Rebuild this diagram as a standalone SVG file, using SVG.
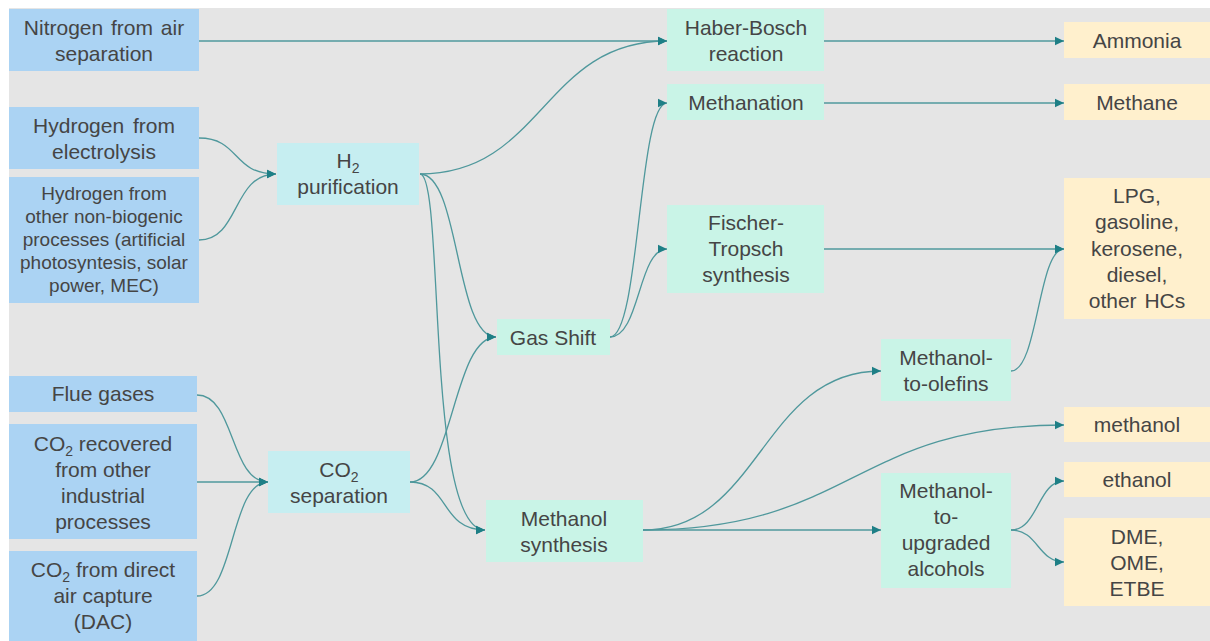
<svg xmlns="http://www.w3.org/2000/svg" width="1210" height="641" viewBox="0 0 1210 641">
<defs>
<style>
.t{font-family:"Liberation Sans",Arial,sans-serif;font-size:21px;fill:#454545;text-anchor:middle}
.s{font-size:19px}
.sub{font-size:14px}
.src{fill:#abd3f3}
.sep{fill:#c6eef1}
.proc{fill:#c9f4e7}
.prod{fill:#fff0cd}
.c{fill:none;stroke:#4f989c;stroke-width:1.3;marker-end:url(#ah)}
</style>
<marker id="ah" markerUnits="userSpaceOnUse" markerWidth="10" markerHeight="10" refX="9" refY="5" orient="auto">
<path d="M0,0.8 L9,5 L0,9.2 Z" fill="#1e7f86"/>
</marker>
</defs>
<rect x="0" y="0" width="1210" height="641" fill="#ffffff"/>
<rect x="9" y="8" width="1201" height="633" fill="#e5e5e5"/>
<g id="connectors">
<path class="c" d="M199,41 L667,41"/>
<path class="c" d="M199,138 C240,138 232,174 276,174"/>
<path class="c" d="M199,240 C240,240 232,174 276,174"/>
<path class="c" d="M420,174 C543,174 543,41 667,41"/>
<path class="c" d="M420,174 C460,174 455,337 496,337"/>
<path class="c" d="M420,174 C445,174 425,530 485,530"/>
<path class="c" d="M410,482 C453,482 453,337 496,337"/>
<path class="c" d="M410,482 C450,482 440,530 485,530"/>
<path class="c" d="M197,395 C235,395 230,482 268,482"/>
<path class="c" d="M197,482 L268,482"/>
<path class="c" d="M197,596 C235,596 230,482 268,482"/>
<path class="c" d="M824,41 L1064,41"/>
<path class="c" d="M824,103 L1064,103"/>
<path class="c" d="M824,249 L1064,249"/>
<path class="c" d="M610,337 C640,337 638,103 667,103"/>
<path class="c" d="M610,337 C640,337 638,249 667,249"/>
<path class="c" d="M643,530 C761,530 761,371 881,371"/>
<path class="c" d="M643,530 C853,530 853,425 1064,425"/>
<path class="c" d="M643,530 L881,530"/>
<path class="c" d="M1011,371 C1038,371 1038,249 1064,249"/>
<path class="c" d="M1011,530 C1038,530 1038,481 1064,481"/>
<path class="c" d="M1011,530 C1038,530 1038,562 1064,562"/>
</g>
<g id="n-nitrogen"><rect class="src" x="9" y="9" width="190" height="62"/><text class="t" x="104" y="35" word-spacing="2">Nitrogen from air</text><text class="t" x="104" y="61">separation</text></g>
<g id="n-h2-electrolysis"><rect class="src" x="9" y="107" width="190" height="62"/><text class="t" x="104" y="133" word-spacing="3">Hydrogen from</text><text class="t" x="104" y="159">electrolysis</text></g>
<g id="n-h2-other"><rect class="src" x="9" y="177" width="190" height="126"/>
<text class="t s" x="104" y="200">Hydrogen from</text>
<text class="t s" x="104" y="223">other non-biogenic</text>
<text class="t s" x="104" y="246">processes (artificial</text>
<text class="t s" x="104" y="269">photosyntesis, solar</text>
<text class="t s" x="104" y="292">power, MEC)</text></g>
<g id="n-flue"><rect class="src" x="9" y="376" width="188" height="36"/><text class="t" x="103" y="401">Flue gases</text></g>
<g id="n-co2-recovered"><rect class="src" x="9" y="424" width="188" height="115"/>
<text class="t" x="103" y="451">CO<tspan class="sub" dy="5">2</tspan><tspan dy="-5"> recovered</tspan></text>
<text class="t" x="103" y="477">from other</text>
<text class="t" x="103" y="503">industrial</text>
<text class="t" x="103" y="529">processes</text></g>
<g id="n-dac"><rect class="src" x="9" y="551" width="188" height="90"/>
<text class="t" x="103" y="577">CO<tspan class="sub" dy="5">2</tspan><tspan dy="-5"> from direct</tspan></text>
<text class="t" x="103" y="603">air capture</text>
<text class="t" x="103" y="629">(DAC)</text></g>
<g id="n-h2-purification"><rect class="sep" x="277" y="143" width="142" height="62"/>
<text class="t" x="348" y="168">H<tspan class="sub" dy="5">2</tspan></text>
<text class="t" x="348" y="194">purification</text></g>
<g id="n-co2-separation"><rect class="sep" x="268" y="451" width="142" height="62"/>
<text class="t" x="339" y="477">CO<tspan class="sub" dy="5">2</tspan></text>
<text class="t" x="339" y="503">separation</text></g>
<g id="n-gas-shift"><rect class="proc" x="497" y="319" width="113" height="36"/><text class="t" x="553" y="345">Gas Shift</text></g>
<g id="n-methanol-synthesis"><rect class="proc" x="486" y="500" width="157" height="62"/><text class="t" x="564" y="526">Methanol</text><text class="t" x="564" y="552">synthesis</text></g>
<g id="n-haber"><rect class="proc" x="667" y="9" width="157" height="62"/><text class="t" x="746" y="35">Haber-Bosch</text><text class="t" x="746" y="61">reaction</text></g>
<g id="n-methanation"><rect class="proc" x="667" y="84" width="157" height="36"/><text class="t" x="746" y="110">Methanation</text></g>
<g id="n-fischer"><rect class="proc" x="667" y="205" width="157" height="88"/><text class="t" x="746" y="230">Fischer-</text><text class="t" x="746" y="256">Tropsch</text><text class="t" x="746" y="282">synthesis</text></g>
<g id="n-mto"><rect class="proc" x="881" y="339" width="130" height="62"/><text class="t" x="946" y="365">Methanol-</text><text class="t" x="946" y="391">to-olefins</text></g>
<g id="n-mtua"><rect class="proc" x="881" y="473" width="130" height="115"/><text class="t" x="946" y="498">Methanol-</text><text class="t" x="946" y="524">to-</text><text class="t" x="946" y="550">upgraded</text><text class="t" x="946" y="576">alcohols</text></g>
<g id="n-ammonia"><rect class="prod" x="1064" y="22" width="146" height="36"/><text class="t" x="1137" y="48">Ammonia</text></g>
<g id="n-methane"><rect class="prod" x="1064" y="84" width="146" height="36"/><text class="t" x="1137" y="110">Methane</text></g>
<g id="n-hcs"><rect class="prod" x="1064" y="178" width="146" height="141"/>
<text class="t" x="1137" y="203">LPG,</text><text class="t" x="1137" y="229">gasoline,</text><text class="t" x="1137" y="256">kerosene,</text><text class="t" x="1137" y="282">diesel,</text><text class="t" x="1137" y="308" word-spacing="2">other HCs</text></g>
<g id="n-methanol"><rect class="prod" x="1064" y="407" width="146" height="35"/><text class="t" x="1137" y="432">methanol</text></g>
<g id="n-ethanol"><rect class="prod" x="1064" y="462" width="146" height="35"/><text class="t" x="1137" y="487">ethanol</text></g>
<g id="n-dme"><rect class="prod" x="1064" y="518" width="146" height="88"/><text class="t" x="1137" y="544">DME,</text><text class="t" x="1137" y="570">OME,</text><text class="t" x="1137" y="596">ETBE</text></g>
</svg>
